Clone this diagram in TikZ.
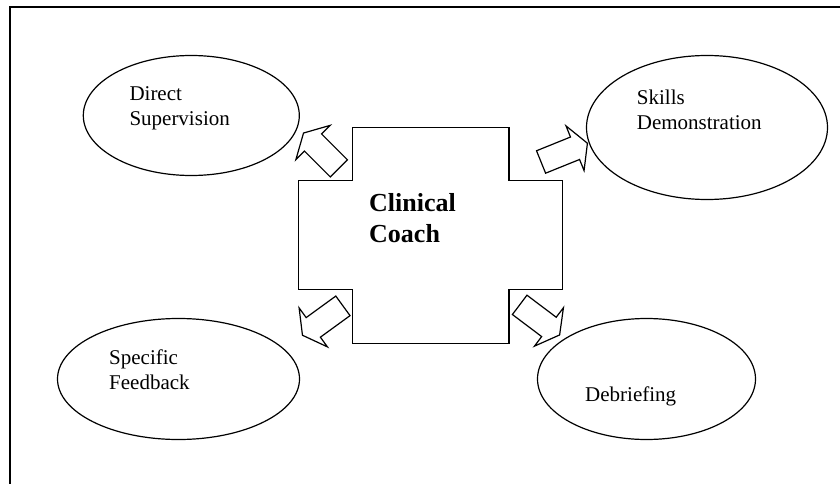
\documentclass[tikz,border=0pt]{standalone}
\usepackage{fontspec}
\setmainfont{Liberation Serif}
\usetikzlibrary{shapes}

\begin{document}
\begin{tikzpicture}[x=1pt,y=-1pt,
bubble/.style={
    ellipse,
    draw=black,
    line width=1.2pt,
    inner sep=0
    },
lbl/.style={
    align=left,
    anchor=base west,
    inner sep=0,
    font=\fontsize{21}{24.3}\selectfont
    },
blockarrow/.style={
    single arrow,
    draw=black,
    line width=1.2pt,
    fill=white,
    anchor=tail,
    minimum height=50pt,
    inner xsep=0pt,
    inner ysep=11.5pt,
    single arrow head extend=12pt,
    single arrow tip angle=122
    }
]
\useasboundingbox (0,0) rectangle (840,484);
\draw[line width=1.5pt] (10,490) -- (10,7) -- (850,7);
% cross round the coach
\draw[line width=1.3pt] (352.7,127.7) -- (509,127.7) -- (509,180.7) -- (562.7,180.7)
  -- (562.7,289.3) -- (509,289.3) -- (509,343.3) -- (352.7,343.3) -- (352.7,289.3)
  -- (298.3,289.3) -- (298.3,180.7) -- (352.7,180.7) -- cycle;
\node(coach) [lbl,font=\fontsize{26}{31}\selectfont\bfseries] at (369,242.7) {Clinical\\Coach};
% the four tasks
\node(direct) [bubble,minimum width=216pt,minimum height=120pt] at (191.3,115.5) {};
\node(skills) [bubble,minimum width=241pt,minimum height=144pt] at (707,127.5) {};
\node(specific) [bubble,minimum width=242pt,minimum height=121pt] at (178.5,379) {};
\node(debrief) [bubble,minimum width=218pt,minimum height=121pt] at (646.5,379) {};
% (base of the last line)
\node(directText) [lbl] at (129.3,125) {Direct\\Supervision};
\node(skillsText) [lbl] at (636.7,129) {Skills\\Demonstration};
\node(specificText) [lbl] at (109,389) {Specific\\Feedback};
\node(debriefText) [lbl] at (585,401.7) {Debriefing};
% block arrows
\node(toDirect) [blockarrow,rotate=135] at (339.3,168.8) {};
\node(toSkills) [blockarrow,rotate=22] at (540.5,162.2) {};
\node(toSpecific) [blockarrow,rotate=216] at (343.4,305.5) {};
\node(toDebrief) [blockarrow,rotate=-37] at (519.2,304.5) {};
\end{tikzpicture}
\end{document}
